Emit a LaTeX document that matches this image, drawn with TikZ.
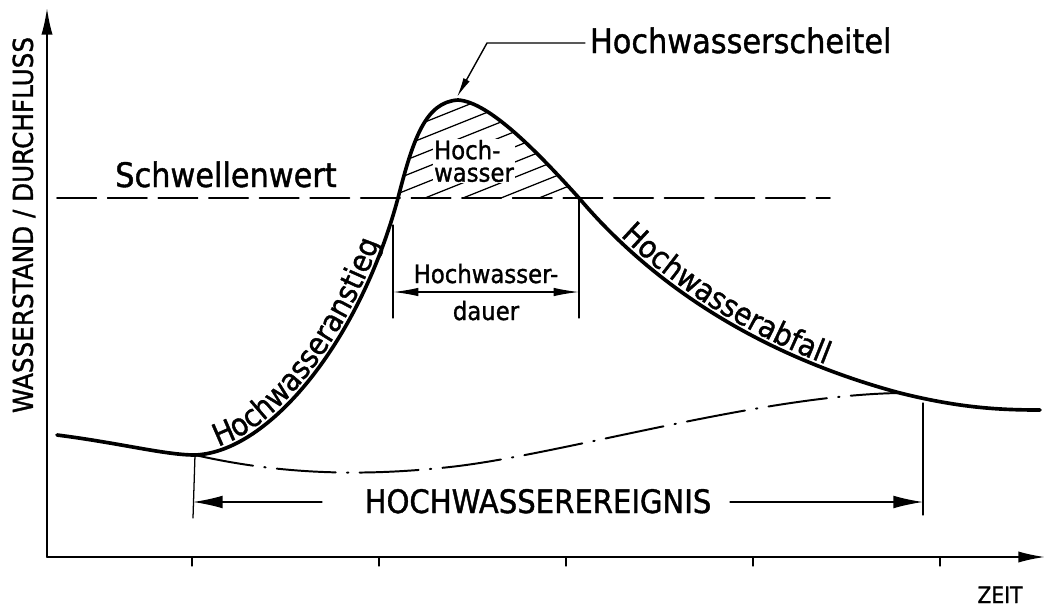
\documentclass[tikz,border=0pt]{standalone}
\usepackage{fontspec}
\setmainfont[FakeStretch=0.9,FakeBold=1.2]{DejaVu Sans}
\usetikzlibrary{arrows.meta,decorations.text}
\begin{document}
\begin{tikzpicture}[x=0.025cm, y=-0.025cm, line join=round, line cap=round, >={Latex[length=18pt,width=6pt]}, font=\fontsize{24}{26}\selectfont]
\def\smallfont{\fontsize{18}{16}\selectfont}
\def\curvefont{\fontsize{22}{24}\selectfont}
\useasboundingbox (0,0) rectangle (1047,607);
\coordinate (O) at (47,557);
\coordinate (ytop) at (47,8);
\coordinate (xend) at (1045,557);
\coordinate (start) at (57,435);
\coordinate (rise) at (195,455);
\coordinate (cross1) at (398,198);
\coordinate (peak) at (458,100);
\coordinate (tip) at (457,97);
\coordinate (cross2) at (579,198);
\coordinate (join) at (900,393);
\coordinate (end) at (1040,410);
\draw[line width=1.3pt, -{Latex[length=19pt,width=8pt]}] (O) -- (ytop);
\draw[line width=1.3pt, -{Latex[length=19pt,width=8pt]}] (O) -- (xend);
\foreach \x in {192,379,566,753,940} \draw[line width=0.9pt] (\x,557) -- (\x,566);
\node[rotate=90, font=\fontsize{19.5}{21}\selectfont] (ylab) at (24,225) {WASSERSTAND / DURCHFLUSS};
\node[anchor=base, font=\fontsize{16}{18}\selectfont] (xlab) at (1000,603) {ZEIT};
\draw[line width=1.1pt, dash pattern=on 28pt off 8pt] (57,198) -- (830,198);
\node[anchor=base] (thr) at (226,187) {Schwellenwert};
\begin{scope}
\clip (cross1) .. controls (413,140) and (425,102) .. (peak) .. controls (490,102) and (540,155) .. (cross2) -- cycle;
\foreach \x in {230,268,...,700} \draw[line width=0.9pt] (\x,200) -- ++(300,-120);
\end{scope}
\node[fill=white, inner sep=1pt, align=left, font=\smallfont] (hw) at (474,161) {Hoch-\\wasser};
\draw[line width=2.6pt] (start) .. controls (120,443) and (165,455) .. (rise) .. controls (270,452) and (360,340) .. (cross1) .. controls (413,140) and (425,102) .. (peak) .. controls (490,102) and (540,155) .. (cross2) .. controls (640,270) and (740,350) .. (join) .. controls (960,408) and (1000,410) .. (end);
\path[decorate, decoration={text along path, raise=3pt, text align={left indent=18pt}, text={|\curvefont|Hochwasseranstieg}}] (rise) .. controls (270,452) and (360,340) .. (cross1);
\path[decorate, decoration={text along path, raise=3pt, text align={left indent=40pt}, text={|\curvefont|Hochwasserabfall}}] (cross2) .. controls (640,270) and (740,350) .. (join);
\draw[line width=1.4pt, dash pattern=on 42pt off 8pt on 1pt off 8pt] (rise) .. controls (270,472) and (350,478) .. (450,467) .. controls (560,455) and (760,395) .. (join);
\node[anchor=base west] (crest) at (585,53) {Hochwasserscheitel};
\coordinate (kink) at (487,43);
\draw[line width=1pt, -{Latex[length=14pt,width=5pt]}] (crest.west |- kink) -- (kink) -- (tip);
\coordinate (d1) at (393,225);
\coordinate (d1b) at (393,318);
\coordinate (d2b) at (579,318);
\draw[line width=0.9pt] (d1) -- (d1b);
\draw[line width=0.9pt] (cross2) -- (d2b);
\draw[line width=0.9pt, <->] (393,292) -- (579,292);
\node[anchor=base, font=\smallfont] (dur1) at (486,283) {Hochwasser-};
\node[anchor=base, font=\smallfont] (dur2) at (486,320) {dauer};
\coordinate (e1b) at (193,518);
\coordinate (e2) at (923,403);
\coordinate (e2b) at (923,515);
\draw[line width=0.9pt] (rise) -- (e1b);
\draw[line width=0.9pt] (e2) -- (e2b);
\node[anchor=base, font=\fontsize{23}{25}\selectfont] (event) at (538,513) {HOCHWASSEREREIGNIS};
\coordinate (el) at (193,502);
\coordinate (elt) at (322,502);
\coordinate (er) at (923,502);
\coordinate (ert) at (730,502);
\draw[line width=0.9pt, -{Latex[length=21pt,width=9pt]}] (elt) -- (el);
\draw[line width=0.9pt, -{Latex[length=21pt,width=9pt]}] (ert) -- (er);
\end{tikzpicture}
\end{document}
